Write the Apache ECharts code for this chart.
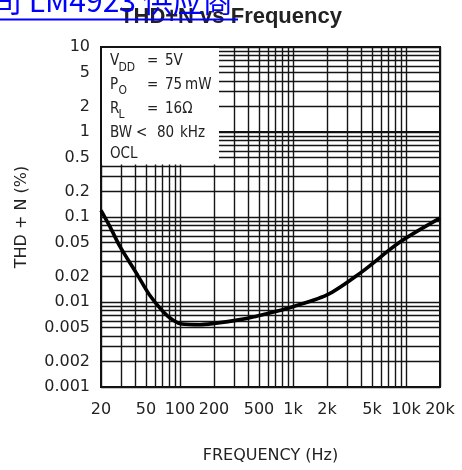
<!DOCTYPE html>
<html><head><meta charset="utf-8">
<script src="https://cdn.jsdelivr.net/npm/echarts@6/dist/echarts.min.js"></script>
<style>html,body{margin:0;padding:0;background:#fff}#c{width:462px;height:470px}</style>
</head><body><div id="c"></div>
<script>
// ---- data ----
const frequencyHz = [20, 24, 29.4, 41, 54, 71, 87, 104, 150, 200, 340, 450, 880, 2000, 3900, 8900, 20000];
const thdPercent  = [0.12, 0.077, 0.045, 0.022, 0.012, 0.0077, 0.0061, 0.0055, 0.0054, 0.0056, 0.0062, 0.0067, 0.0084, 0.0121, 0.0217, 0.051, 0.097];

const xTickValues = [20, 50, 100, 200, 500, 1000, 2000, 5000, 10000, 20000];
const xTickLabels = ['20', '50', '100', '200', '500', '1k', '2k', '5k', '10k', '20k'];
const yTickValues = [0.001, 0.002, 0.005, 0.01, 0.02, 0.05, 0.1, 0.2, 0.5, 1, 2, 5, 10];
const yTickLabels = ['0.001', '0.002', '0.005', '0.01', '0.02', '0.05', '0.1', '0.2', '0.5', '1', '2', '5', '10'];

const xGridValues = [20,30,40,50,60,70,80,90,100,200,300,400,500,600,700,800,900,1000,2000,3000,4000,5000,6000,7000,8000,9000,10000,20000];
const yGridValues = [0.001,0.002,0.003,0.004,0.005,0.006,0.007,0.008,0.009,
                     0.01,0.02,0.03,0.04,0.05,0.06,0.07,0.08,0.09,
                     0.1,0.2,0.3,0.4,0.5,0.6,0.7,0.8,0.9,
                     1,2,3,4,5,6,7,8,9,10];

const titleText = 'THD+N vs Frequency';
const linkText = '司 LM4923 供应商';
const xName = 'FREQUENCY (Hz)';
const yName = 'THD + N (%)';

// ---- build options (log10 coordinates on value axes) ----
const L = Math.log10;
const seriesData = frequencyHz.map((f, i) => [L(f), L(thdPercent[i])]);
function labelFor(values, labels, v) {
  for (let i = 0; i < values.length; i++) if (Math.abs(L(values[i]) - v) < 1e-6) return labels[i];
  return '';
}
const TFONT = "'Liberation Sans', Arial, sans-serif";
const FONT = "'DejaVu Sans', sans-serif";
const NFONT = "'Liberation Sans Narrow', 'DejaVu Sans Condensed', 'Liberation Sans', sans-serif";
const gridColor = '#151515';
const txt = (x, y, s, size) => ({type: 'text', z: 6, x: x, y: y,
  style: {text: s, fontSize: size || 15, fontFamily: NFONT, fill: '#222', align: 'left', verticalAlign: 'middle'}});

const chart = echarts.init(document.getElementById('c'), null, {renderer: 'canvas'});
chart.setOption({
  animation: false,
  backgroundColor: '#fff',
  title: {
    text: titleText, left: 'center', top: 1,
    textStyle: {fontFamily: TFONT, fontSize: 22, fontWeight: 'bold', color: '#222'}
  },
  grid: {left: 101, top: 47, width: 339, height: 340, show: true, borderColor: '#111', borderWidth: 2, backgroundColor: 'transparent'},
  xAxis: {
    type: 'value', min: L(20), max: L(20000),
    name: xName, nameLocation: 'middle', nameGap: 61,
    nameTextStyle: {fontFamily: FONT, fontSize: 16, color: '#222'},
    axisLine: {show: true, lineStyle: {color: '#111', width: 2}},
    axisTick: {show: false, customValues: xGridValues.map(L)},
    splitLine: {show: true, lineStyle: {color: gridColor, width: 1.4}},
    axisLabel: {customValues: xTickValues.map(L), margin: 15, fontFamily: FONT, fontSize: 16, color: '#222',
      formatter: v => labelFor(xTickValues, xTickLabels, v)}
  },
  yAxis: {
    type: 'value', min: -3, max: 1,
    name: yName, nameLocation: 'middle', nameGap: 71, nameRotate: 90,
    nameTextStyle: {fontFamily: FONT, fontSize: 16, color: '#222'},
    axisLine: {show: true, lineStyle: {color: '#111', width: 2}},
    axisTick: {show: false, customValues: yGridValues.map(L)},
    splitLine: {show: true, lineStyle: {color: gridColor, width: 1.4}},
    axisLabel: {customValues: yTickValues.map(L), margin: 11, fontFamily: FONT, fontSize: 16, color: '#222',
      formatter: v => labelFor(yTickValues, yTickLabels, v)}
  },
  series: [{
    type: 'line', data: seriesData, showSymbol: false, symbol: 'none',
    smooth: 0.3,
    lineStyle: {color: '#000', width: 3.6}, z: 10
  }],
  graphic: {elements: [
    {type: 'rect', z: 5, shape: {x: 102, y: 48, width: 117, height: 116.5}, style: {fill: '#fff'}},
    txt(110, 61.5, 'V'), txt(118.5, 67.5, 'DD', 12), txt(147, 61.5, '='), txt(165, 61.5, '5V'),
    txt(110, 85, 'P'), txt(118.5, 91, 'O', 12), txt(147, 85, '='), txt(165, 85, '75'), txt(185, 85, 'mW'),
    txt(110, 109, 'R'), txt(118.5, 115, 'L', 12), txt(147, 109, '='), txt(165, 109, '16Ω'),
    txt(110, 133.5, 'BW'), txt(136, 133.5, '<'), txt(157, 133.5, '80'), txt(180, 133.5, 'kHz'),
    txt(110, 154.5, 'OCL'),
    {type: 'text', z: 100, x: -8, y: 1, style: {text: linkText, fontSize: 30, fontFamily: "'Noto Sans CJK SC', sans-serif", fill: '#0000ff', align: 'left', verticalAlign: 'middle'}},
    {type: 'line', z: 100, shape: {x1: 0, y1: 19.5, x2: 238, y2: 19.5}, style: {stroke: '#0000ff', lineWidth: 2}}
  ]}
});
</script>
</body></html>
